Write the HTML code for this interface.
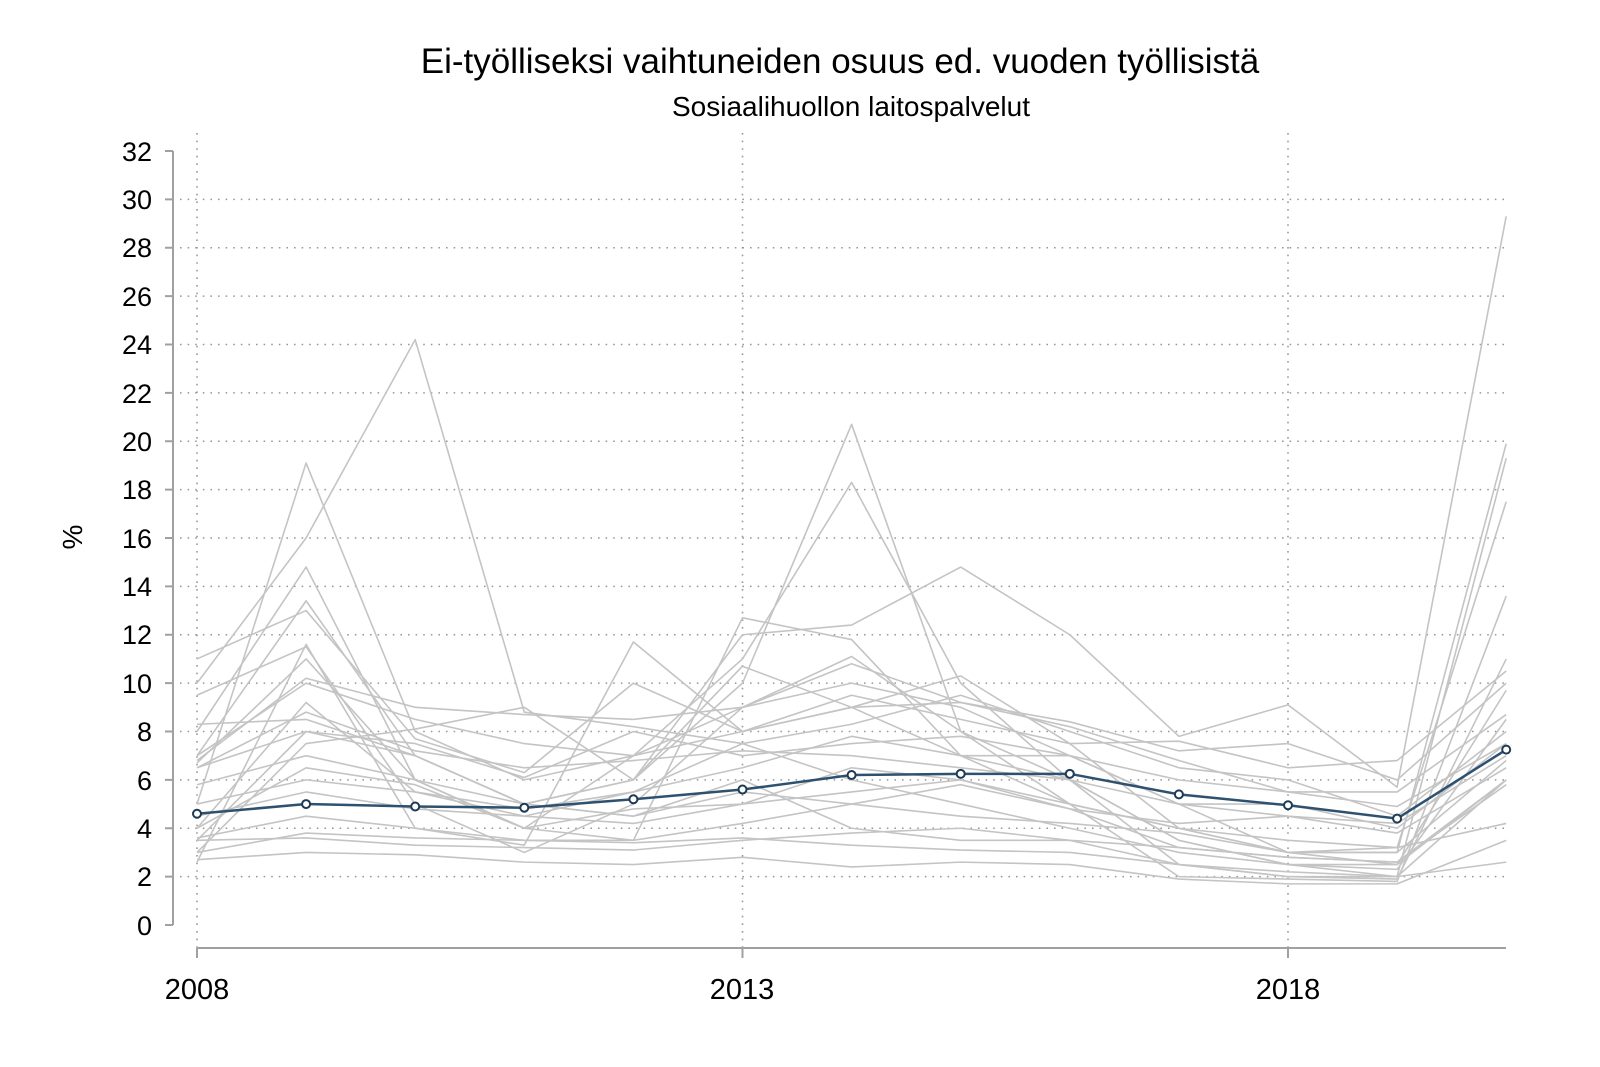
<!DOCTYPE html>
<html><head><meta charset="utf-8"><style>
html,body{margin:0;padding:0;background:#fff}
svg{display:block;font-family:"Liberation Sans",Arial,sans-serif}
</style></head><body>
<svg id="s" width="1600" height="1067" viewBox="0 0 1600 1067">
<rect width="1600" height="1067" fill="#fff"/>
<text x="840" y="73" font-size="35" text-anchor="middle" fill="#000">Ei-työlliseksi vaihtuneiden osuus ed. vuoden työllisistä</text>
<text x="851" y="116" font-size="28" text-anchor="middle" fill="#000">Sosiaalihuollon laitospalvelut</text>
<text transform="translate(82,537) rotate(-90)" font-size="28" text-anchor="middle" fill="#000">%</text>
<g id="grid" stroke="#999" stroke-width="1.6" stroke-dasharray="1.6,6"></g>
<g id="gray" fill="none" stroke="#c4c4c4" stroke-width="1.6" stroke-linejoin="round"></g>
<g id="blue"></g>
<g stroke="#a0a0a0" stroke-width="2">
<line x1="173" y1="151" x2="173" y2="925"/>
<line x1="197" y1="948" x2="1506" y2="948"/>
</g>
<g id="ticks" stroke="#a0a0a0" stroke-width="2"></g>
<g font-size="27" fill="#000" text-anchor="end">
<text x="152" y="935">0</text><text x="152" y="886">2</text><text x="152" y="838">4</text><text x="152" y="790">6</text>
<text x="152" y="741">8</text><text x="152" y="693">10</text><text x="152" y="644">12</text><text x="152" y="596">14</text>
<text x="152" y="548">16</text><text x="152" y="499">18</text><text x="152" y="451">20</text><text x="152" y="403">22</text>
<text x="152" y="354">24</text><text x="152" y="306">26</text><text x="152" y="257">28</text><text x="152" y="209">30</text>
<text x="152" y="161">32</text>
</g>
<g font-size="29" fill="#000" text-anchor="middle">
<text x="197" y="999">2008</text><text x="742" y="999">2013</text><text x="1288" y="999">2018</text>
</g>
</svg>
<script>
var NS="http://www.w3.org/2000/svg";
function X(i){return 197+i*109.1}
function Y(v){return 925-v*24.1875}
function el(n,a,p){var e=document.createElementNS(NS,n);for(var k in a)e.setAttribute(k,a[k]);document.getElementById(p).appendChild(e);return e}
for(var v=2;v<=30;v+=2)el("line",{x1:180,x2:1506,y1:Y(v),y2:Y(v)},"grid");
[0,5,10].forEach(function(i){el("line",{x1:X(i),x2:X(i),y1:133,y2:948},"grid")});
for(var v=0;v<=32;v+=2)el("line",{x1:165,x2:173,y1:Y(v),y2:Y(v)},"ticks");
[0,5,10].forEach(function(i){el("line",{x1:X(i),x2:X(i),y1:948,y2:958},"ticks")});
var G=[
[10,16,24.2,8.8,8.2,7.5,6,5,4,3,2.5,2.5,6],
[5,19.1,8,6,7,9,10,9,7,5,3,2.5,9.7],
[3.5,8,7,5,6,10,20.7,8,5,4,3,3,19.9],
[6.7,11,6,4,7,11,18.3,10,6,3.5,2.5,2,19.3],
[7,13.4,7,5,6,12,12.4,14.8,12,7.8,9.1,5.7,29.3],
[11,13,7.7,6.3,10,8,9,10.3,7.5,4,3,3.2,17.5],
[8,14.8,6,4,3.5,12.7,11.8,7,5,2,1.9,1.8,13.6],
[9.5,11.5,5,3,5,9,11.1,8,6,2.5,2,1.9,11],
[2.6,11.6,4,3.3,11.7,8,9.5,8.5,7.5,7.6,6.5,6.8,10.5],
[6.8,10.2,9,8.7,8.5,9,10.8,9.2,8.2,6.8,5.5,5.5,8.7],
[3,7.5,8.1,9,6,10.7,9,7,6,3.5,2.5,2.3,8.5],
[4,9.2,5.5,4.5,5.5,7.5,8.3,9.5,8,6.5,6,4.5,8],
[6.5,8,7.5,6.1,8,7,7.5,7.8,7,5,5,4,7.5],
[3.5,3.6,3.3,3.2,3.1,3.5,3.8,4,3.5,3.2,2.8,2.6,6],
[3,3.8,3.6,3.5,3.4,3.6,3.3,3.1,3,2.5,2.2,2,2.6],
[4.5,5.5,4.8,4.5,4.2,5,5.5,6,5,4,3.5,3.2,4.2],
[5.8,7,6,5,4.5,5.5,5,5.8,4.8,4.2,4.5,3.8,6.5],
[2.7,3,2.9,2.6,2.5,2.8,2.4,2.6,2.5,1.9,1.7,1.7,3.5],
[8.3,8.5,7,5,4.5,6,4,3.5,3.5,2.5,2,2,6],
[7,10,8.5,7.5,7,8,9,9.2,8.4,7.2,7.5,6,10],
[3.6,4.5,4,3.5,3.5,4.2,5,4.5,4.2,3.8,3,3,6.8],
[6.5,8.8,7.2,6.5,6.8,7.2,7,6.5,6,5,4.5,4.2,7],
[4,6.5,5.8,4,4.8,5,6.5,6,4.8,3.2,2.8,2.6,5.8],
[5,6,5.5,4.8,5.5,6.5,7.8,7,7,6,5.5,4.9,7.5]];
G.forEach(function(s){el("polyline",{points:s.map(function(v,i){return X(i)+","+Y(v)}).join(" ")},"gray")});
var B=[4.6,5.0,4.9,4.85,5.2,5.6,6.2,6.25,6.25,5.4,4.95,4.4,7.25];
el("polyline",{points:B.map(function(v,i){return X(i)+","+Y(v)}).join(" "),fill:"none",stroke:"#2e5170","stroke-width":2.5},"blue");
B.forEach(function(v,i){el("circle",{cx:X(i),cy:Y(v),r:4,fill:"#fff",stroke:"#1e3a55","stroke-width":2},"blue")});
</script>
</body></html>
